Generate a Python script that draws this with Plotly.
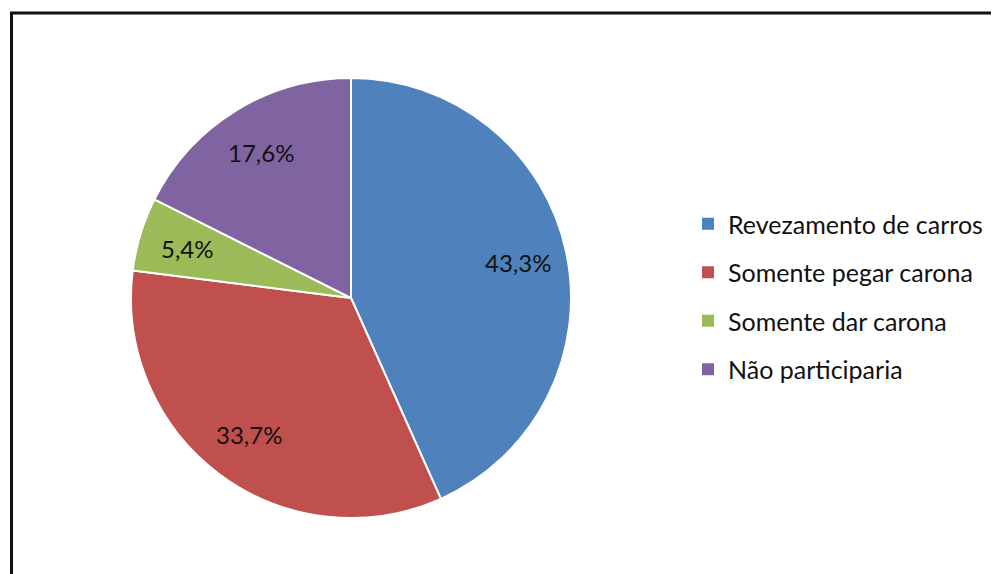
import math
import plotly.graph_objects as go

labels = ["Revezamento de carros", "Somente pegar carona", "Somente dar carona", "Não participaria"]
values = [43.3, 33.7, 5.4, 17.6]
colors = ["#4F81BD", "#C0504D", "#9BBB59", "#8064A2"]

OFF = 8  # page body margin
W, H = 999 - OFF, 574 - OFF
FONT = "Lato"

cx, cy, R = 351 - OFF, 298 - OFF, 220
dom_x = [(cx - R) / W, (cx + R) / W]
dom_y = [1 - (cy + R) / H, 1 - (cy - R) / H]

fig = go.Figure()
fig.add_trace(go.Pie(
    labels=labels, values=values, sort=False, direction="clockwise", rotation=0,
    marker=dict(colors=colors, line=dict(color="white", width=2)),
    textinfo="none", hoverinfo="label+percent", showlegend=False,
    domain=dict(x=dom_x, y=dom_y),
))

# data labels placed along each slice's mid-angle
total = sum(values)
cum = 0.0
annotations = []
for v in values:
    mid = (cum + v / 2) / total * 2 * math.pi
    cum += v
    r = 0.775 * R
    px = cx + r * math.sin(mid)
    py = cy - r * math.cos(mid)
    annotations.append(dict(
        x=px / W, y=1 - py / H, xref="paper", yref="paper",
        xanchor="center", yanchor="middle",
        text=f"{v:.1f}".replace(".", ",") + "%", showarrow=False,
        font=dict(family=FONT, size=24, color="#111111"),
    ))

# legend entries (one group each so spacing can be set)
for lab, col in zip(labels, colors):
    fig.add_trace(go.Scatter(
        x=[None], y=[None], mode="markers", name=lab, legendgroup=lab,
        marker=dict(symbol="square", size=12, color=col),
    ))

fig.update_layout(
    width=W, height=H, margin=dict(l=0, r=0, t=0, b=0),
    paper_bgcolor="white", plot_bgcolor="white",
    xaxis=dict(visible=False), yaxis=dict(visible=False),
    annotations=annotations,
    legend=dict(x=680 / W, y=1 - 193 / H, xanchor="left", yanchor="top",
                font=dict(family=FONT, size=25, color="#111111"),
                tracegroupgap=13, itemsizing="trace", bgcolor="rgba(0,0,0,0)"),
    shapes=[dict(type="rect", xref="paper", yref="paper",
                 x0=(11.5 - OFF) / W, x1=1.1, y0=-0.1, y1=1 - (13 - OFF) / H,
                 line=dict(color="#111111", width=3), fillcolor="rgba(0,0,0,0)")],
)

fig.write_html("out.html")
